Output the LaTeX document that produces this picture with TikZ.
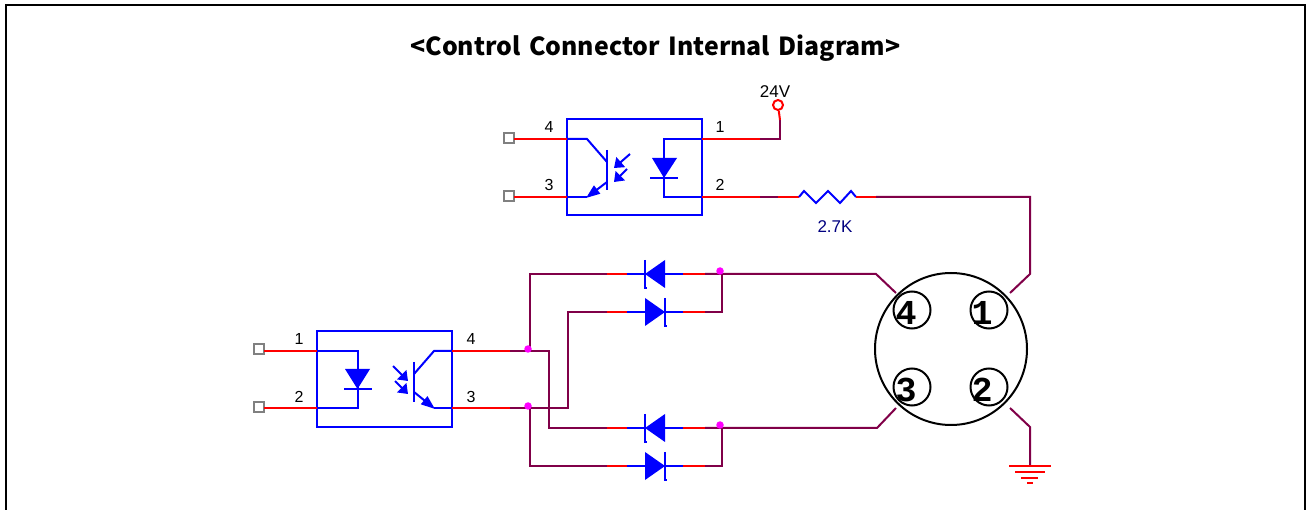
\documentclass[tikz,border=0pt]{standalone}
\usepackage{fontspec}
\setmainfont{Liberation Sans}
\newfontfamily\titlefont[WordSpace=1.5]{Noto Sans CJK KR}
\newfontfamily\pinfont{Liberation Mono}
\usetikzlibrary{arrows.meta}
\definecolor{wirered}{RGB}{255,0,0}
\definecolor{wiremaroon}{RGB}{128,0,72}
\definecolor{partblue}{RGB}{0,0,255}
\definecolor{valblue}{RGB}{0,0,128}
\definecolor{pingrey}{RGB}{128,128,128}
\definecolor{dotpink}{RGB}{255,0,255}
\tikzset{
 redw/.style={wirered,line width=2pt},
 marw/.style={wiremaroon,line width=2pt,line join=miter},
 bluw/.style={partblue,line width=2pt},
 pinbox/.style={draw=pingrey,fill=white,line width=2pt,minimum size=10pt,inner sep=0,outer sep=0},
 pinnum/.style={font=\fontsize{16}{16}\selectfont,inner sep=0},
 dot/.style={circle,fill=dotpink,minimum size=7.5pt,inner sep=0},
 ledarrow/.style={partblue,-{Triangle[length=9pt,width=13pt]},line width=2pt},
 emitarrow/.style={partblue,-{Triangle[length=14pt,width=10pt]},line width=2pt}
}
% one diode on a row: #1 = base x, #2 = tip x, #3 = y
\newcommand{\rowdiode}[3]{
 \fill[partblue] (#1,#3-14) -- (#2,#3) -- (#1,#3+14) -- cycle;
 \draw[bluw] (#2,#3-14) -- (#2,#3+14) -- ++(2,0);
}
\begin{document}
\begin{tikzpicture}[x=1pt,y=-1pt]
\useasboundingbox (0,0) rectangle (1307,510);
% frame
\draw[black,line width=2.4pt] (6,510) -- (6,5) -- (1305,5) -- (1305,510);
\node[font=\titlefont\bfseries\fontsize{24.85}{24.85}\selectfont,inner sep=0] (title) at (655.5,48.5) {<Control Connector Internal Diagram>};

% upper coupler
\node[draw=partblue,line width=2pt,minimum width=135pt,minimum height=96pt,inner sep=0,outer sep=0] (boxa) at (634.5,167) {};
\node[pinbox] (pa4) at (509,138) {};
\node[pinbox] (pa3) at (509,196) {};
\coordinate (a1) at (702,139);
\coordinate (a2) at (702,197);
\coordinate (vcc) at (780,120);
\node[circle,draw=wirered,line width=2pt,minimum size=10pt,inner sep=0] (vtop) at (778,105) {};
\node[font=\fontsize{17}{17}\selectfont,inner sep=0] (vlab) at (775,92) {24V};
\draw[redw] (pa4.east |- 0,139) -- (567,139);
\draw[redw] (pa3.east |- 0,197) -- (567,197);
\draw[bluw] (567,139) -- (587,139) -- (607,162);
\draw[bluw] (607,150) -- (607,190);
\draw[bluw] (567,197) -- (587,197);
\draw[emitarrow] (607,182) -- (586,198);
\draw[ledarrow] (630,154) -- (614,168);
\draw[ledarrow] (627,169) -- (614,182);
\draw[bluw] (702,139) -- (664,139) -- (664,197) -- (702,197);
\fill[partblue] (652,158) -- (677,158) -- (664,178) -- cycle;
\draw[bluw] (650,178) -- (678,178);
\draw[redw] (a1) -- (760,139);
\draw[marw] (760,139) -- (780,139) -- (vcc);
\draw[redw] (vcc) -- (vtop);
\draw[redw] (a2) -- (760,197);
\draw[marw] (760,197) -- (778,197);
\draw[redw] (778,197) -- (799,197);
\draw[bluw] (799,197) -- (804,191) -- (816,203) -- (828,191) -- (840,203) -- (851,191) -- (856,197);
\draw[redw] (856,197) -- (876,197);
\node[text=valblue,font=\fontsize{17}{17}\selectfont,inner sep=0] (rlab) at (835,227) {2.7K};
\foreach \x/\y/\t/\n in {549/127/4/na,549/185/3/nb,720/127/1/nc,720/185/2/nd,299/339/1/ne,299/397/2/nf,471/339/4/ng,471/397/3/nh} {
 \node[pinnum] (\n) at (\x,\y) {\t};
}

% lower coupler
\node[draw=partblue,line width=2pt,minimum width=135pt,minimum height=96pt,inner sep=0,outer sep=0] (boxb) at (384.5,379) {};
\node[pinbox] (pb1) at (259,349) {};
\node[pinbox] (pb2) at (259,407) {};
\draw[redw] (pb1.east |- 0,351) -- (317,351);
\draw[redw] (pb2.east |- 0,408) -- (317,408);
\draw[bluw] (317,351) -- (358,351) -- (358,408) -- (317,408);
\fill[partblue] (345,369) -- (370,369) -- (357.5,389) -- cycle;
\draw[bluw] (344,389) -- (372,389);
\draw[bluw] (414,362) -- (414,402);
\draw[bluw] (414,374) -- (434,351) -- (452,351);
\draw[emitarrow] (414,392) -- (435,409);
\draw[bluw] (434,408) -- (452,408);
\draw[ledarrow] (393,366) -- (408,381);
\draw[ledarrow] (395,381) -- (408,394);
\draw[redw] (452,351) -- (510,351);
\draw[redw] (452,408) -- (510,408);

% four diodes
\foreach \y in {274,312,428,466} {
 \draw[marw] (589,\y) -- (607,\y);
 \draw[redw] (607,\y) -- (627,\y);
 \draw[bluw] (627,\y) -- (683,\y);
 \draw[redw] (683,\y) -- (705,\y);
}
\rowdiode{665}{645}{274}
\rowdiode{645}{665}{312}
\rowdiode{665}{645}{428}
\rowdiode{645}{665}{466}

% connector
\draw[black,line width=2pt] (951,349) circle (76);
\foreach \x/\y/\t/\dx/\dy/\n in {912/310/4/906/313/ca,989/310/1/982/313/cb,912/387/3/906/390/cc,989/387/2/982/390/cd} {
 \draw[black,line width=2pt] (\x,\y) circle (18.5);
 \node[font=\pinfont\bfseries\fontsize{35}{35}\selectfont,inner sep=0] (\n) at (\dx,\dy) {\t};
}
\coordinate (c4) at (896,293);
\coordinate (c1) at (1010,293);
\coordinate (c3) at (896,408);
\coordinate (c2) at (1010,408);

% wiring
\draw[marw] (510,351) -- (549,351) -- (549,428) -- (607,428);
\draw[marw] (510,408) -- (568,408) -- (568,312) -- (607,312);
\draw[marw] (530,351) -- (530,274) -- (607,274);
\draw[marw] (530,408) -- (530,466) -- (607,466);
\draw[marw] (705,274) -- (876,274) -- (c4);
\draw[marw] (705,312) -- (722,312) -- (722,274);
\draw[marw] (705,428) -- (877,428) -- (c3);
\draw[marw] (705,466) -- (722,466) -- (722,428);
\draw[marw] (876,197) -- (1030,197) -- (1030,274) -- (c1);
\draw[marw] (c2) -- (1030,427) -- (1030,466);
\node[dot] (ja) at (528,349) {};
\node[dot] (jb) at (528,406) {};
\node[dot] (jc) at (720,271) {};
\node[dot] (jd) at (720,425) {};

% ground
\draw[redw] (1009,466) -- (1051,466);
\draw[redw] (1015,472) -- (1045,472);
\draw[redw] (1021,477.5) -- (1038,477.5);
\draw[redw] (1027,483) -- (1033,483);
\end{tikzpicture}
\end{document}
